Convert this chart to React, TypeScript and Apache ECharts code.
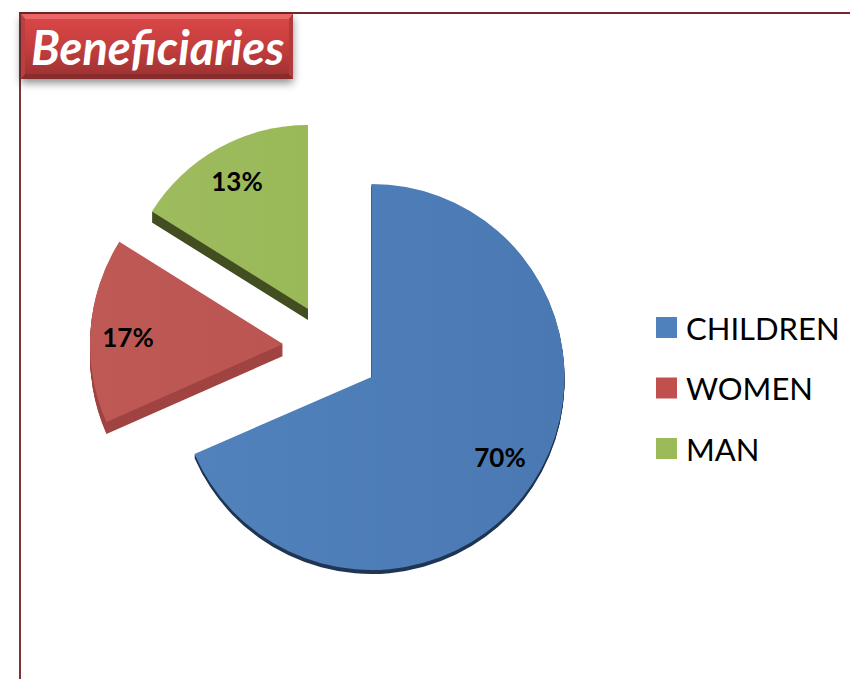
import React, { useEffect, useRef } from "react";
import * as echarts from "echarts";

const categories = ["CHILDREN", "WOMEN", "MAN"];
const shares = [70, 17, 13];
const titleText = "Beneficiaries";

const topColors: [string, string][] = [["#5182bc", "#4a78b2"], ["#bf5955", "#bb5551"], ["#9ebb5e", "#99b958"]];
const sideColors = ["#1f3654", "#a04442", "#434f22"];
const legendColors = ["#4f81bd", "#c0504d", "#9bbb59"];
// placement of each exploded, tilted slice: centre, radius, and the arc it sweeps
const centers = [[371.5, 377], [283, 344], [308, 309]];
const radii = [193, 193, 184];
const arcs = [[90, -156.5], [-156.2, -212], [-212, -270]];
const depths = [4, 12, 11];
const labelSpots = [[500, 457], [128, 337], [237, 181]];

export default function App() {
  const ref = useRef<HTMLDivElement>(null);
  useEffect(() => {
    const chart = echarts.init(ref.current!, undefined, { renderer: "svg" });
    const series: any[] = [];
    categories.forEach((name, i) => {
      for (let d = depths[i]; d > 0; d -= 1) {
        series.push({
          type: "pie", silent: true, clockwise: true, z: 1,
          center: [centers[i][0], centers[i][1] + d], radius: [0, radii[i]],
          startAngle: arcs[i][0], endAngle: arcs[i][1],
          label: { show: false }, labelLine: { show: false },
          itemStyle: { color: sideColors[i] },
          data: [{ name: name + " side", value: shares[i] }],
        });
      }
    });
    categories.forEach((name, i) => {
      series.push({
        type: "pie", silent: true, clockwise: true, z: 2,
        name,
        center: centers[i], radius: [0, radii[i]],
        startAngle: arcs[i][0], endAngle: arcs[i][1],
        labelLine: { show: false },
        label: {
          show: true, position: "inside", formatter: "{c}%",
          fontFamily: "Lato", fontWeight: "bold", fontSize: 26, color: "#000",
        },
        labelLayout: { x: labelSpots[i][0], y: labelSpots[i][1], align: "center", verticalAlign: "middle" },
        itemStyle: {
          color: new echarts.graphic.LinearGradient(0, 0, 1, 0, [
            { offset: 0, color: topColors[i][0] },
            { offset: 1, color: topColors[i][1] },
          ]),
        },
        data: [{ name, value: shares[i] }],
      });
    });
    chart.setOption({
      animation: false,
      backgroundColor: "#ffffff",
      title: {
        text: titleText, left: 31, top: 23, padding: 0, z: 10,
        textStyle: { fontFamily: "Lato", fontStyle: "italic", fontWeight: "bold", fontSize: 47, color: "#ffffff" },
      },
      legend: {
        left: 656, top: 312, padding: 0, orient: "vertical", icon: "rect",
        itemWidth: 21, itemHeight: 21, itemGap: 29.5, itemStyle: { borderWidth: 0 },
        selectedMode: false,
        textStyle: { fontFamily: "Lato", fontSize: 31, color: "#000", padding: [0, 0, 0, 4] },
        data: categories.map((name, i) => ({ name, itemStyle: { color: legendColors[i] } })),
      },
      graphic: [
        { type: "rect", z: 1, shape: { x: 19, y: 13, width: 2, height: 666 }, style: { fill: "#7d3436" } },
        { type: "rect", z: 1, shape: { x: 19, y: 12, width: 831, height: 2 }, style: { fill: "#72282a" } },
        {
          type: "rect", z: 2, shape: { x: 21, y: 14, width: 272, height: 65 },
          style: { fill: "#a83535", shadowBlur: 8, shadowOffsetY: 4, shadowColor: "rgba(0,0,0,0.45)" },
        },
        {
          type: "rect", z: 3, shape: { x: 25, y: 19, width: 264, height: 55 },
          style: {
            fill: new echarts.graphic.LinearGradient(0, 0, 0, 1, [
              { offset: 0, color: "#d94646" }, { offset: 0.55, color: "#c23d3d" }, { offset: 1, color: "#a03333" },
            ]),
          },
        },
        { type: "polygon", z: 3, shape: { points: [[21, 14], [293, 14], [289, 19], [25, 19]] }, style: { fill: "#e96766" } },
        { type: "polygon", z: 3, shape: { points: [[21, 79], [293, 79], [289, 74], [25, 74]] }, style: { fill: "#872b2c" } },
        { type: "polygon", z: 3, shape: { points: [[21, 14], [25, 19], [25, 74], [21, 79]] }, style: { fill: "#bc3f3f" } },
        { type: "polygon", z: 3, shape: { points: [[293, 14], [289, 19], [289, 74], [293, 79]] }, style: { fill: "#b23a3a" } },
      ],
      series,
    });
    return () => chart.dispose();
  }, []);
  return <div ref={ref} style={{ position: "absolute", left: 0, top: 0, width: 850, height: 679 }} />;
}
